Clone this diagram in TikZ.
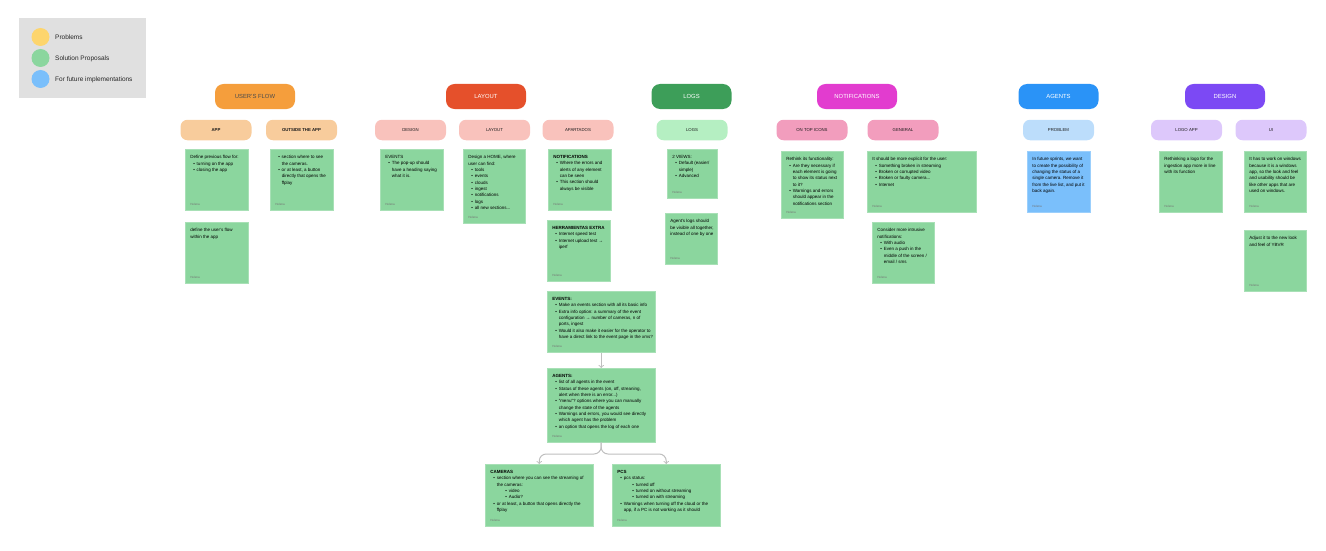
\documentclass[tikz,border=0pt]{standalone}
\usepackage{fontspec}
\setmainfont{Liberation Sans}
\usepackage{xcolor}
\usetikzlibrary{arrows,shadows}
\definecolor{stickygreen}{HTML}{8BD69E}
\definecolor{stickyblue}{HTML}{7ABFFB}
\definecolor{dotyellow}{HTML}{FDD56D}
\definecolor{headorange}{HTML}{F59E3C}
\definecolor{headred}{HTML}{E5502B}
\definecolor{headgreen}{HTML}{3D9E59}
\definecolor{headpink}{HTML}{E23CCF}
\definecolor{headblue}{HTML}{2A93F7}
\definecolor{headpurple}{HTML}{7C49F4}
\definecolor{suborange}{HTML}{F8CC9C}
\definecolor{subred}{HTML}{F9C2BC}
\definecolor{subgreen}{HTML}{B5EFC2}
\definecolor{subpink}{HTML}{F29DBD}
\definecolor{subblue}{HTML}{BCDDFB}
\definecolor{subpurple}{HTML}{DDC8FB}
\tikzstyle{link} = [line width=1pt,draw=black!25,->,>=to]
\newcommand{\tl}[1]{\mbox{#1}\par}
\newcommand{\bu}[1]{\mbox{\hspace*{3pt}\makebox[3.5pt][l]{\textbullet}#1}\par}
\newcommand{\cn}[1]{\mbox{\hspace*{6.5pt}#1}\par}
\newcommand{\bb}[1]{\mbox{\hspace*{15pt}\makebox[3.5pt][l]{\textbullet}#1}\par}

\begin{document}
\begin{tikzpicture}
        [
            x=1pt,y=-1pt,
            head/.style={rectangle,rounded corners=8.5pt,fill=#1,text=white,minimum width=80pt,minimum height=25pt,inner sep=0pt,font=\fontsize{5.9}{7}\selectfont},
            sub/.style={rectangle,rounded corners=7pt,fill=#1,text=black!90,minimum width=71pt,minimum height=20.5pt,inner sep=0pt,font=\fontsize{4.3}{6}\selectfont},
            note/.style 2 args={rectangle,anchor=north west,fill=stickygreen,draw=stickygreen!75!white,line width=0.5pt,inner sep=5pt,
                drop shadow={opacity=0.12,shadow xshift=0pt,shadow yshift=-0.6pt},
                execute at begin node={\begin{minipage}[t][\dimexpr#2pt-11pt\relax][t]{\dimexpr#1pt-10pt\relax}\vspace*{1.2pt}\fontsize{4.5}{6.33}\selectfont\color{black}},
                execute at end node={\vfill\fontsize{3}{3}\selectfont\color{black!55}Helena\end{minipage}}},
            legenddot/.style={circle,fill=#1,minimum size=18pt,inner sep=0pt},
            legendtext/.style={anchor=west,inner sep=0pt,text=black!85,font=\fontsize{6.5}{8}\selectfont},
        ]
    \useasboundingbox (0,0) rectangle (1326,551);

    % legend
    \node[rectangle,fill=black!12,anchor=north west,minimum width=127pt,minimum height=80pt,inner sep=0pt] (legend) at (19,18){};
    \node[legenddot=dotyellow] (dotproblems) at (40.5,37){};
    \node[legenddot=stickygreen] (dotsolutions) at (40.5,58){};
    \node[legenddot=stickyblue] (dotfuture) at (40.5,79){};
    \node[legendtext] (txtproblems) at (55,37.5){Problems};
    \node[legendtext] (txtsolutions) at (55,58.5){Solution Proposals};
    \node[legendtext] (txtfuture) at (55,79.5){For future implementations};

    % heads
    \node[head=headorange,text=black!70] (flow) at (255,96.5){USER'S FLOW};
    \node[head=headred] (layout) at (486,96.5){LAYOUT};
    \node[head=headgreen] (logs) at (691.5,96.5){LOGS};
    \node[head=headpink] (notif) at (857,96.5){NOTIFICATIONS};
    \node[head=headblue] (agents) at (1058.5,96.5){AGENTS};
    \node[head=headpurple] (design) at (1225,96.5){DESIGN};

    % second row
    \node[sub=suborange] (subapp) at (216,130){\textbf{APP}};
    \node[sub=suborange] (subout) at (301.5,130){\textbf{OUTSIDE THE APP}};
    \node[sub=subred] (subdesign) at (410.5,130){DESIGN};
    \node[sub=subred] (sublayout) at (494.5,130){LAYOUT};
    \node[sub=subred] (subapart) at (578,130){APARTADOS};
    \node[sub=subgreen] (sublogs) at (692,130){LOGS};
    \node[sub=subpink] (subtop) at (812,130){ON TOP ICONS};
    \node[sub=subpink] (subgeneral) at (903,130){GENERAL};
    \node[sub=subblue] (subproblem) at (1058.5,130){PROBLEM};
    \node[sub=subpurple] (sublogo) at (1186.5,130){LOGO APP};
    \node[sub=subpurple] (subui) at (1271,130){UI};

    % user's flow
    \node[note={63}{62}] (appprev) at (185,149){\tl{Define previous flow for:}\bu{turning on the app}\bu{closing the app}};
    \node[note={63}{62}] (appflow) at (185,222){\tl{define the user's flow}\tl{within the app}};
    \node[note={63}{62}] (outcam) at (270,149){\bu{section where to see}\cn{the cameras.}\bu{or at least, a button}\cn{directly that opens the}\cn{ffplay}};

    % layout
    \node[note={63}{62}] (popup) at (380,149){\tl{EVENTS}\bu{The pop-up should}\cn{have a heading saying}\cn{what it is.}};
    \node[note={62}{75}] (home) at (463,149){\tl{Design a HOME, where}\tl{user can find:}\bu{tools}\bu{events}\bu{clouds}\bu{ingest}\bu{notifications}\bu{logs}\bu{all new sections...}};
    \node[note={63}{62}] (apnotif) at (548,149){\tl{\textbf{NOTIFICATIONS}}\bu{Where the errors and}\cn{alerts of any element}\cn{can be seen}\bu{This section should}\cn{always be visible}};
    \node[note={63}{62}] (apextra) at (547,220){\tl{\textbf{HERRAMIENTAS EXTRA}}\bu{Internet speed test}\bu{Internet upload test →}\cn{iperf}};
    \node[note={108}{62}] (apevents) at (547,291){\tl{\textbf{EVENTS:}}\bu{Make an events section with all its basic info}\bu{Extra info option: a summary of the event}\cn{configuration → number of cameras, n of}\cn{ports, ingest}\bu{Would it also make it easier for the operator to}\cn{have a direct link to the event page in the xms?}};
    \node[note={108}{75}] (apagents) at (547,368){\tl{\textbf{AGENTS:}}\bu{list of all agents in the event}\bu{Status of these agents (on, off, streaning,}\cn{alert when there is an error...)}\bu{"menu"? options where you can manually}\cn{change the state of the agents}\bu{Warnings and errors, you would see directly}\cn{which agent has the problem}\bu{an option that opens the log of each one}};
    \node[note={108}{63}] (apcameras) at (485,464){\tl{\textbf{CAMERAS}}\bu{section where you can see the streaming of}\cn{the cameras:}\bb{video}\bb{Audio?}\bu{or at least, a button that opens directly the}\cn{ffplay}};
    \node[note={108}{63}] (appcs) at (612,464){\tl{\textbf{PCS}}\bu{pcs status:}\bb{turned off}\bb{turned on without streaming}\bb{turned on with streaming}\bu{Warnings when turning off the cloud or the}\cn{app, if a PC is not working as it should}};

    % logs
    \node[note={50}{50}] (logviews) at (667,149){\tl{2 VIEWS:}\bu{Default (easier/}\cn{simple)}\bu{Advanced}};
    \node[note={52}{52}] (logagents) at (665,213){\tl{Agent's logs should}\tl{be visible all together,}\tl{instead of one by one}};

    % notifications
    \node[note={62}{68}] (rethink) at (781,151){\tl{Rethink its functionality:}\bu{Are they necessary if}\cn{each element is going}\cn{to show its status next}\cn{to it?}\bu{Warnings and errors}\cn{should appear in the}\cn{notifications section}};
    \node[note={109}{62}] (explicit) at (867,151){\tl{It should be more explicit for the user:}\bu{Something broken in streaming}\bu{Broken or corrupted video}\bu{Broken or faulty camera...}\bu{Internet}};
    \node[note={62}{62}] (intrusive) at (872,222){\tl{Consider more intrusive}\tl{notifications:}\bu{With audio}\bu{Even a push in the}\cn{middle of the screen /}\cn{email / sms}};

    % agents
    \node[note={63}{62},fill=stickyblue,draw=stickyblue!75!white] (sprints) at (1027,151){\tl{In future sprints, we want}\tl{to create the possibility of}\tl{changing the status of a}\tl{single camera. Remove it}\tl{from the live list, and put it}\tl{back again.}};

    % design
    \node[note={63}{62}] (logoapp) at (1159,151){\tl{Rethinking a logo for the}\tl{ingestion app more in line}\tl{with its function}};
    \node[note={62}{62}] (windows) at (1244,151){\tl{It has to work on windows}\tl{because it is a windows}\tl{app, so the look and feel}\tl{and usability should be}\tl{like other apps that are}\tl{used on windows.}};
    \node[note={62}{62}] (ybvr) at (1244,230){\tl{Adjust it to the new look}\tl{and feel of YBVR}};

    % connectors
    \coordinate (fork) at (601,454);
    \draw[link] (apevents) -- (apagents);
    \draw[link,rounded corners=7pt] (apagents.south) -- (fork) -| (apcameras.north);
    \draw[link,rounded corners=7pt] (apagents.south) -- (fork) -| (appcs.north);
\end{tikzpicture}
\end{document}
